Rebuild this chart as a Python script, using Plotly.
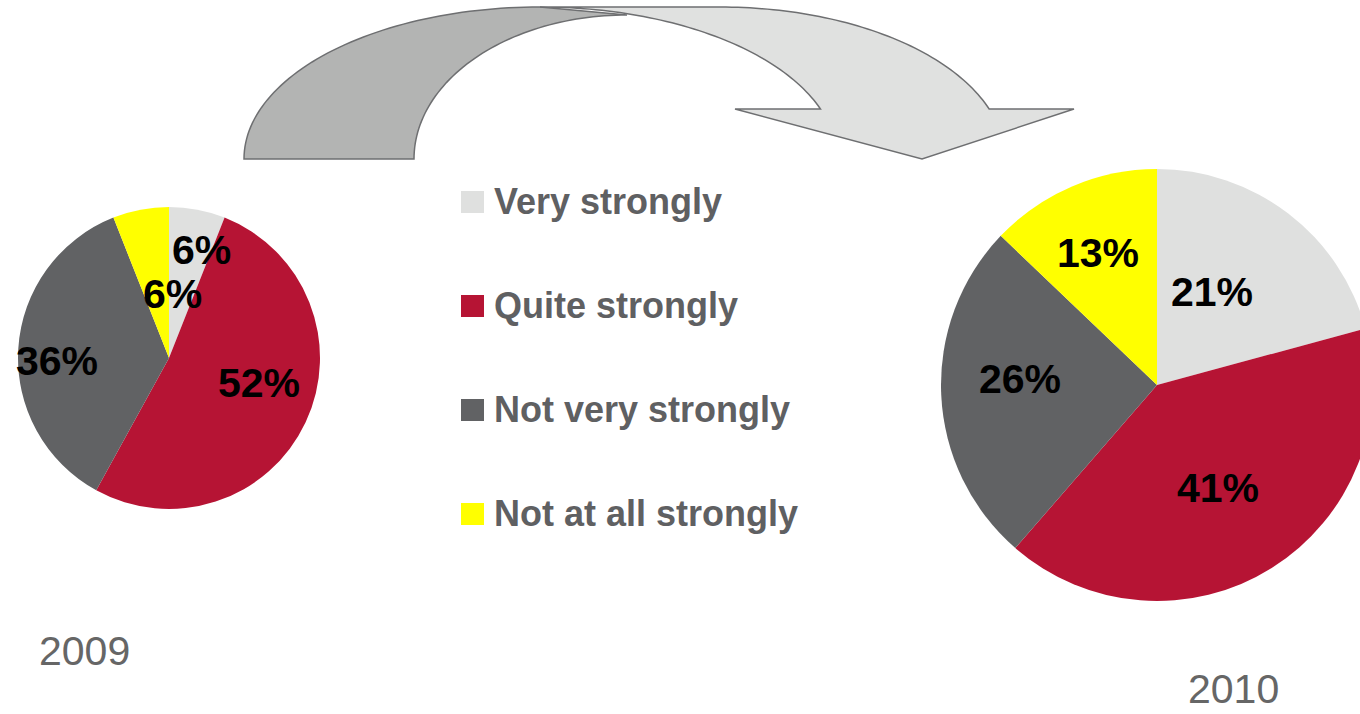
import numpy as np
import plotly.graph_objects as go

# ---------------- data ----------------
categories = ["Very strongly", "Quite strongly", "Not very strongly", "Not at all strongly"]
values_2009 = [6, 52, 36, 6]
values_2010 = [21, 41, 26, 13]
years = ["2009", "2010"]
slice_colors = ["#dfe0df", "#b61434", "#616264", "#ffff00"]

# ---------------- layout helpers ----------------
W, H = 1380, 714  # a bit wider than the window so the right pie is clipped at the edge
FONT = "Liberation Sans, Arial, sans-serif"


def fx(x):
    return x / W


def fy(y):
    return 1 - y / H


fig = go.Figure()

# pies
pie_domains = [
    dict(x=[fx(16), fx(322)], y=[fy(509), fy(207)]),
    dict(x=[fx(941), fx(1373)], y=[fy(601), fy(169)]),
]
for vals, dom in zip([values_2009, values_2010], pie_domains):
    fig.add_trace(go.Pie(
        values=vals, labels=categories, sort=False, direction="clockwise",
        rotation=0, marker=dict(colors=slice_colors, line=dict(width=0)),
        textinfo="none", hovertemplate="%{label}: %{value}%<extra></extra>",
        domain=dom, showlegend=False,
    ))

# slice labels (positions of text boxes, values from data)
label_pos_2009 = [(201, 250), (259, 383), (57, 361), (172, 294)]
label_pos_2010 = [(1212, 292), (1218, 488), (1020, 379), (1098, 253)]
for vals, poss in [(values_2009, label_pos_2009), (values_2010, label_pos_2010)]:
    for v, (x, y) in zip(vals, poss):
        fig.add_annotation(
            x=fx(x), y=fy(y), xref="paper", yref="paper", text=f"<b>{v}%</b>",
            showarrow=False, xanchor="center", yanchor="middle",
            font=dict(family=FONT, size=41, color="#000000"),
        )

# legend (manual, to match spacing)
legend_rows_y = [202, 306, 410, 514]
for cat, col, y in zip(categories, slice_colors, legend_rows_y):
    fig.add_shape(type="rect", xref="paper", yref="paper",
                  x0=fx(461), x1=fx(484), y0=fy(y - 11), y1=fy(y + 11),
                  fillcolor=col, line=dict(width=0))
    fig.add_annotation(
        x=fx(492), y=fy(y - 1), xref="paper", yref="paper", text=f"<b>{cat}</b>",
        showarrow=False, xanchor="left", yanchor="middle",
        font=dict(family=FONT, size=36, color="#5f6062"),
    )

# year labels
year_pos = [(84, 651), (1233, 689)]
for yr, (x, y) in zip(years, year_pos):
    fig.add_annotation(
        x=fx(x), y=fy(y), xref="paper", yref="paper", text=yr,
        showarrow=False, xanchor="center", yanchor="middle",
        font=dict(family=FONT, size=41, color="#666666"),
    )


# curved arrow (decorative)
def arc(cx, cy, rx, ry, t0, t1, n=60):
    t = np.radians(np.linspace(t0, t1, n))
    return list(zip(cx + rx * np.cos(t), cy - ry * np.sin(t)))


def path(points):
    return "M " + " L ".join(f"{fx(x):.5f},{fy(y):.5f}" for x, y in points) + " Z"


t_end = np.degrees(np.arcsin(50 / 152))
dark_pts = arc(540, 159, 296, 152, 180, 90) + arc(627, 159, 213, 144, 90, 180)
light_pts = ([(540, 7)] + arc(720, 159, 285, 152, 90, t_end)
             + [(1074, 109), (922, 159), (735, 109)]
             + arc(540, 159, 297, 152, t_end, 90))
fig.add_shape(type="path", xref="paper", yref="paper", path=path(dark_pts),
              fillcolor="#b3b4b3", line=dict(color="#6e6f71", width=1.5))
fig.add_shape(type="path", xref="paper", yref="paper", path=path(light_pts),
              fillcolor="#e0e1e0", line=dict(color="#6e6f71", width=1.5))

fig.update_layout(
    width=W, height=H, margin=dict(l=0, r=0, t=0, b=0),
    paper_bgcolor="#ffffff", plot_bgcolor="#ffffff",
    showlegend=False,
)

fig.write_html(
    "out.html",
    config={"displayModeBar": False},
    post_script="document.body.style.margin='0';document.body.style.overflow='hidden';",
)
